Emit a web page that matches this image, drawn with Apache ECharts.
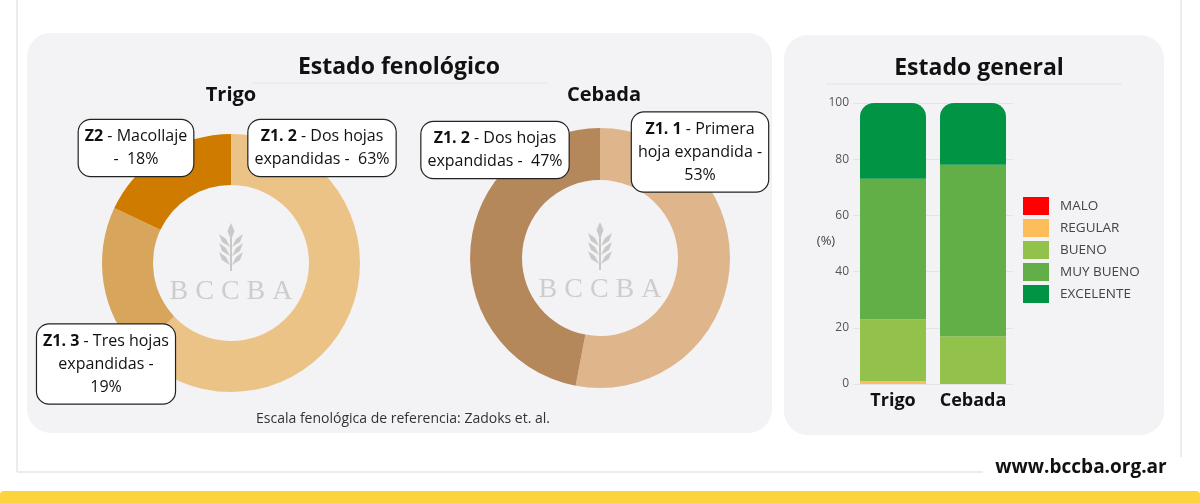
<!DOCTYPE html>
<html>
<head>
<meta charset="utf-8">
<script src="https://cdn.jsdelivr.net/npm/echarts@6/dist/echarts.min.js"></script>
<style>
  html, body { margin: 0; padding: 0; background: #fff; }
  #main { width: 1200px; height: 503px; }
</style>
</head>
<body>
<div id="main"></div>
<script>
// Estado fenológico - Trigo
var trigoCodes = ['Z1. 2', 'Z1. 3', 'Z2'];
var trigoDesc = ['Dos hojas\nexpandidas', 'Tres hojas\nexpandidas', 'Macollaje'];
var trigoSep = [' -  ', ' -\n', '\n-  '];
var trigoPct = [63, 19, 18];
var trigoColors = ['#ECC387', '#D8A55C', '#CE7B00'];

// Estado fenológico - Cebada
var cebadaCodes = ['Z1. 1', 'Z1. 2'];
var cebadaDesc = ['Primera\nhoja expandida', 'Dos hojas\nexpandidas'];
var cebadaSep = [' -\n', ' -  '];
var cebadaPct = [53, 47];
var cebadaColors = ['#DFB58C', '#B5885B'];

// Estado general
var cultivos = ['Trigo', 'Cebada'];
var estados = ['MALO', 'REGULAR', 'BUENO', 'MUY BUENO', 'EXCELENTE'];
var malo = [0, 0];
var regular = [1, 0];
var bueno = [22, 17];
var muyBueno = [50, 61];
var excelente = [27, 22];
var estadoColors = ['#FF0000', '#FDBD5B', '#92C14C', '#62AF47', '#009444'];
var yTicks = [0, 20, 40, 60, 80, 100];

// label box centres (layout only)
var trigoBoxPos = [[322, 148], [106, 364], [136, 148]];
var cebadaBoxPos = [[700, 152], [495, 150]];

var chart = echarts.init(document.getElementById('main'));

function pieData(codes, desc, sep, pct, colors) {
  return pct.map(function (v, i) {
    return {
      value: v,
      name: codes[i],
      desc: desc[i],
      sep: sep[i],
      itemStyle: { color: colors[i] }
    };
  });
}

function pieLabel(p) {
  return '{c|' + p.data.name + '} - ' + p.data.desc + p.data.sep + p.value + '%';
}

var labelStyle = {
  show: true,
  position: 'inside',
  overflow: 'none',
  formatter: pieLabel,
  fontFamily: 'Open Sans',
  fontSize: 16,
  color: '#111',
  lineHeight: 23,
  align: 'center',
  backgroundColor: '#fff',
  borderColor: '#222',
  borderWidth: 1.2,
  borderRadius: 12,
  padding: [5, 6],
  rich: {
    c: { fontFamily: 'Open Sans', fontWeight: 'bold', fontSize: 16, color: '#111', lineHeight: 23, align: 'center' }
  }
};

function wheat(cx, top) {
  var col = '#C9C9C9';
  var kids = [
    { type: 'line', shape: { x1: 0, y1: 14, x2: 0, y2: 48 }, style: { stroke: col, lineWidth: 2 } },
    { type: 'polygon', shape: { points: [[0, 0], [3.5, 8], [0, 17], [-3.5, 8]] }, style: { fill: col } }
  ];
  [13, 22, 31].forEach(function (y) {
    kids.push({ type: 'polygon', shape: { points: [[-1, y + 11], [-5, y + 3], [-12, y - 2], [-9, y + 6]] }, style: { fill: col } });
    kids.push({ type: 'polygon', shape: { points: [[1, y + 11], [5, y + 3], [12, y - 2], [9, y + 6]] }, style: { fill: col } });
  });
  return { type: 'group', x: cx, y: top, silent: true, children: kids };
}

function bccba(cx, y) {
  return {
    type: 'text', x: cx, y: y, silent: true,
    style: { text: 'B C C B A', fontFamily: 'Liberation Serif', fontSize: 28, fill: '#CDCDCD', align: 'center', verticalAlign: 'middle' }
  };
}

var barSeries = estados.map(function (name, i) {
  var vals = [malo, regular, bueno, muyBueno, excelente][i];
  var s = {
    name: name,
    type: 'bar',
    stack: 'total',
    barWidth: 66,
    data: vals,
    itemStyle: { color: estadoColors[i] },
    emphasis: { disabled: true }
  };
  if (name === 'EXCELENTE') s.itemStyle.borderRadius = [14, 14, 0, 0];
  return s;
});

var option = {
  animation: false,
  graphic: {
    elements: [
      // outer frame
      { type: 'line', shape: { x1: 17, y1: 0, x2: 17, y2: 472 }, style: { stroke: '#EBEBF0', lineWidth: 2 }, silent: true },
      { type: 'line', shape: { x1: 17, y1: 472, x2: 983, y2: 472 }, style: { stroke: '#EBEBF0', lineWidth: 2 }, silent: true },
      { type: 'line', shape: { x1: 1181, y1: 0, x2: 1181, y2: 457 }, style: { stroke: '#EBEBF0', lineWidth: 2 }, silent: true },
      { type: 'rect', shape: { x: 0, y: 491, width: 1200, height: 12, r: [4, 4, 0, 0] }, style: { fill: '#FDD33B' }, silent: true },
      { type: 'text', x: 1081, y: 468, silent: true,
        style: { text: 'www.bccba.org.ar', fontFamily: 'Open Sans', fontWeight: 'bold', fontSize: 19, fill: '#111', align: 'center', verticalAlign: 'middle' } },
      // panels
      { type: 'rect', z: -1, shape: { x: 27, y: 33, width: 745, height: 400, r: 24 }, style: { fill: '#F3F3F6' }, silent: true },
      { type: 'rect', z: -1, shape: { x: 784, y: 35, width: 380, height: 400, r: 24 }, style: { fill: '#F3F3F6' }, silent: true },
      // titles
      { type: 'text', x: 399, y: 67, silent: true,
        style: { text: 'Estado fenológico', fontFamily: 'Open Sans', fontWeight: 'bold', fontSize: 23, fill: '#111', align: 'center', verticalAlign: 'middle' } },
      { type: 'line', shape: { x1: 253, y1: 83, x2: 547, y2: 83 }, style: { stroke: '#EAEAEE', lineWidth: 1.5 }, silent: true },
      { type: 'text', x: 231, y: 95, silent: true,
        style: { text: 'Trigo', fontFamily: 'Open Sans', fontWeight: 'bold', fontSize: 20, fill: '#111', align: 'center', verticalAlign: 'middle' } },
      { type: 'text', x: 604, y: 95, silent: true,
        style: { text: 'Cebada', fontFamily: 'Open Sans', fontWeight: 'bold', fontSize: 20, fill: '#111', align: 'center', verticalAlign: 'middle' } },
      { type: 'text', x: 403, y: 419, silent: true,
        style: { text: 'Escala fenológica de referencia: Zadoks et. al.', fontFamily: 'Open Sans', fontSize: 14, fill: '#333', align: 'center', verticalAlign: 'middle' } },
      { type: 'text', x: 979, y: 68, silent: true,
        style: { text: 'Estado general', fontFamily: 'Open Sans', fontWeight: 'bold', fontSize: 23, fill: '#111', align: 'center', verticalAlign: 'middle' } },
      { type: 'line', shape: { x1: 826, y1: 84, x2: 1122, y2: 84 }, style: { stroke: '#EAEAEE', lineWidth: 1.5 }, silent: true },
      { type: 'text', x: 826, y: 241, silent: true,
        style: { text: '(%)', fontFamily: 'Open Sans', fontSize: 13, fill: '#444', align: 'center', verticalAlign: 'middle' } },
      // watermarks
      wheat(231, 223), bccba(231, 292),
      wheat(600, 222), bccba(600, 290)
    ]
  },
  legend: {
    data: estados,
    orient: 'vertical',
    left: 1023,
    top: 197,
    padding: 0,
    itemWidth: 26,
    itemHeight: 18,
    itemGap: 4,
    icon: 'rect',
    selectedMode: false,
    textStyle: { fontFamily: 'Open Sans', fontSize: 13.5, color: '#444', padding: [0, 0, 0, 6] }
  },
  grid: { left: 853, top: 103, width: 160, height: 281 },
  xAxis: {
    type: 'category',
    data: cultivos,
    axisLine: { show: false },
    axisTick: { show: false },
    axisLabel: { interval: 0, fontFamily: 'Open Sans', fontWeight: 'bold', fontSize: 18, color: '#111', margin: 8 }
  },
  yAxis: {
    type: 'value',
    min: yTicks[0],
    max: yTicks[yTicks.length - 1],
    interval: 20,
    axisLine: { show: false },
    axisTick: { show: false },
    splitLine: { lineStyle: { color: '#E4E4E8' } },
    axisLabel: { fontFamily: 'Open Sans', fontSize: 12, color: '#555', margin: 4 }
  },
  series: [
    {
      name: 'Trigo',
      type: 'pie',
      center: [231, 263],
      radius: [78, 129],
      startAngle: 90,
      clockwise: true,
      data: pieData(trigoCodes, trigoDesc, trigoSep, trigoPct, trigoColors),
      label: labelStyle,
      labelLine: { show: false },
      emphasis: { disabled: true },
      labelLayout: function (p) {
        var pos = trigoBoxPos[p.dataIndex];
        return { x: pos[0], y: pos[1], align: 'center', verticalAlign: 'middle' };
      }
    },
    {
      name: 'Cebada',
      type: 'pie',
      center: [600, 258],
      radius: [78, 130],
      startAngle: 90,
      clockwise: true,
      data: pieData(cebadaCodes, cebadaDesc, cebadaSep, cebadaPct, cebadaColors),
      label: labelStyle,
      labelLine: { show: false },
      emphasis: { disabled: true },
      labelLayout: function (p) {
        var pos = cebadaBoxPos[p.dataIndex];
        return { x: pos[0], y: pos[1], align: 'center', verticalAlign: 'middle' };
      }
    }
  ].concat(barSeries)
};

option && chart.setOption(option);
</script>
</body>
</html>
